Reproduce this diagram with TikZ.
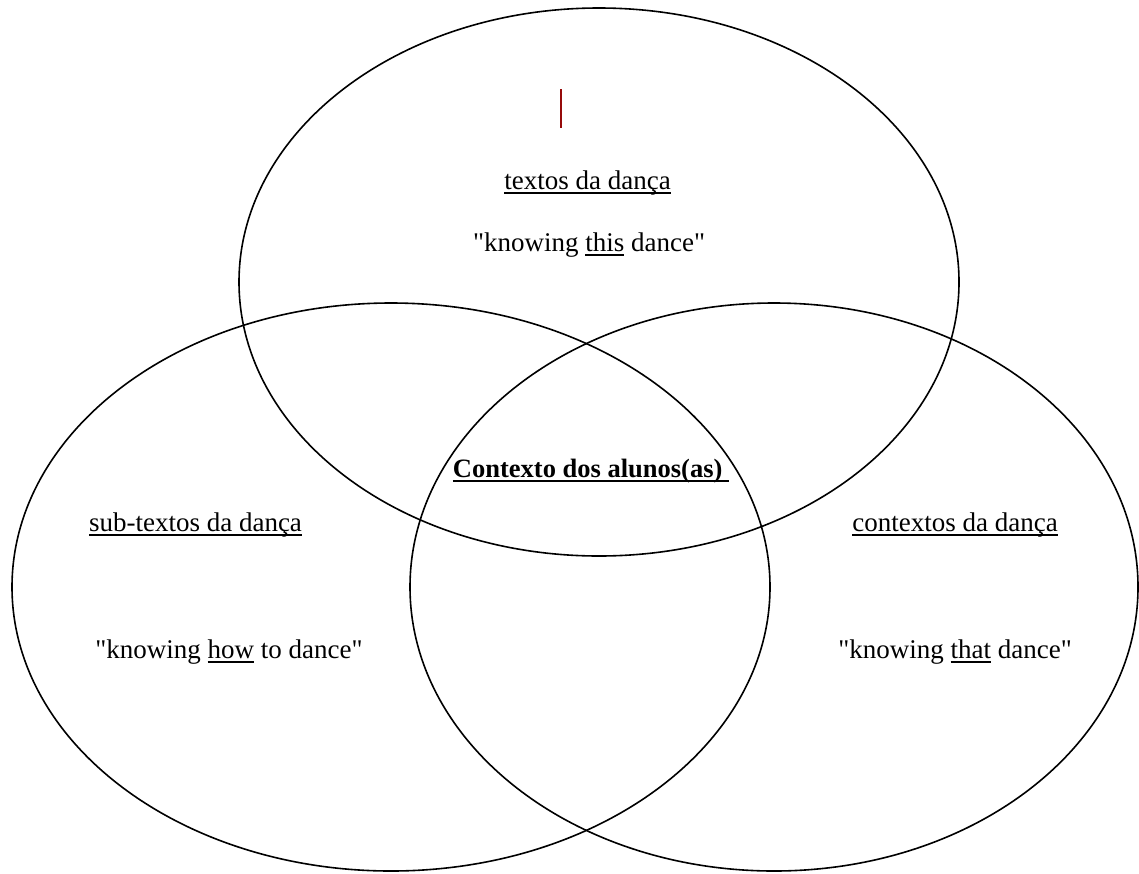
\documentclass[tikz,border=0pt]{standalone}
\usepackage{fontspec}
\setmainfont{Liberation Serif}[Ligatures=TeXOff]
\usetikzlibrary{shapes.geometric}
\newcommand\uln[1]{\setbox0\hbox{#1}\rlap{\rule[-5pt]{\wd0}{1.8pt}}\box0\relax}
\definecolor{barred}{RGB}{150,10,10}
\begin{document}
\begin{tikzpicture}[x=1pt,y=-1pt,
  ring/.style={draw=black,line width=1.6pt,ellipse,inner sep=0pt},
  lbl/.style={anchor=base,inner sep=0pt,font=\fontsize{27}{31}\selectfont},
  blbl/.style={anchor=base,inner sep=0pt,font=\fontsize{26.5}{30}\selectfont\bfseries}]
\useasboundingbox (0,0) rectangle (1139,873);
\node[ring,minimum width=720pt,minimum height=548pt] (top) at (599,282) {};
\node[ring,minimum width=758pt,minimum height=568pt] (left) at (391,587) {};
\node[ring,minimum width=728pt,minimum height=568pt] (right) at (774,587) {};
\coordinate (barA) at (561,89);
\coordinate (barB) at (561,128);
\draw[barred,line width=2.2pt] (barA) -- (barB);
\node[lbl] (t1) at (587.5,189) {\uln{textos da dança}};
\node[lbl] (t2) at (589,251) {"knowing \uln{this} dance"};
\node[blbl] (c) at (591,477) {\uln{Contexto dos alunos(as)\ }};
\node[lbl] (l1) at (195.5,531) {\uln{sub-textos da dança}};
\node[lbl] (l2) at (229,658) {"knowing \uln{how} to dance"};
\node[lbl] (r1) at (955,531) {\uln{contextos da dança}};
\node[lbl] (r2) at (955,658) {"knowing \uln{that} dance"};
\end{tikzpicture}
\end{document}
